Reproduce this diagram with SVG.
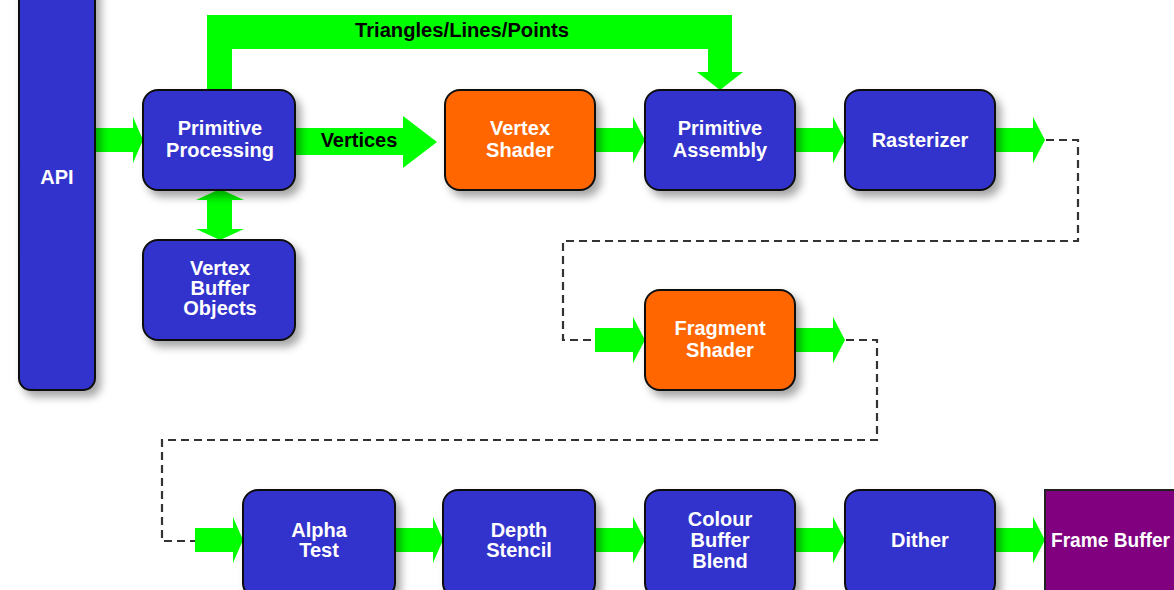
<svg xmlns="http://www.w3.org/2000/svg" width="1174" height="590" viewBox="0 0 1174 590">
<defs>
<filter id="sh" x="-20%" y="-20%" width="150%" height="150%">
<feDropShadow dx="5" dy="6" stdDeviation="4" flood-color="#000" flood-opacity="0.35"/>
</filter>
<style>
.box{fill:#3333cc;stroke:#111;stroke-width:2;filter:url(#sh)}
.org{fill:#ff6600;stroke:#111;stroke-width:2;filter:url(#sh)}
.fb{fill:#800080;stroke:#222;stroke-width:2}
.t{font-family:"Liberation Sans",Arial,sans-serif;font-weight:bold;font-size:20px;fill:#fff;text-anchor:middle}
.lb{font-family:"Liberation Sans",Arial,sans-serif;font-weight:bold;font-size:20px;fill:#000;text-anchor:middle}
.ar{fill:#00ff00}
.dash{fill:none;stroke:#333;stroke-width:2.2;stroke-dasharray:8 5}
</style>
</defs>
<rect width="1174" height="590" fill="#fff"/>
<g id="connectors">
<polygon class="ar" points="207,92 207,15 732,15 732,72 743,72 720,90 697,72 708,72 708,49 232,49 232,92"/>
<text class="lb" x="462" y="37" textLength="214" lengthAdjust="spacingAndGlyphs">Triangles/Lines/Points</text>
<polygon class="ar" points="95,128 133,128 133,117 143,140 133,163 133,152 95,152"/>
<polygon class="ar" points="295,128 403,128 403,116 437,142 403,168 403,155 295,155"/>
<text class="lb" x="359" y="147">Vertices</text>
<polygon class="ar" points="220,189 244,200 232,200 232,229 244,229 220,240 196,229 207,229 207,200 196,200"/>
<polygon class="ar" points="595,128 633,128 633,117 645,140 633,163 633,152 595,152"/>
<polygon class="ar" points="795,128 833,128 833,117 845,140 833,163 833,152 795,152"/>
<polygon class="ar" points="995,128 1033,128 1033,117 1045,140 1033,163 1033,152 995,152"/>
<polyline class="dash" points="1046,140 1078,140 1078,241 563,241 563,340 595,340"/>
<polygon class="ar" points="595,328 633,328 633,317 645,340 633,363 633,352 595,352"/>
<polygon class="ar" points="795,328 833,328 833,317 845,340 833,363 833,352 795,352"/>
<polyline class="dash" points="846,340 877,340 877,440 162,440 162,541 195,541"/>
<polygon class="ar" points="195,528 233,528 233,517 243,540 233,563 233,552 195,552"/>
<polygon class="ar" points="395,528 433,528 433,517 443,540 433,563 433,552 395,552"/>
<polygon class="ar" points="595,528 633,528 633,517 645,540 633,563 633,552 595,552"/>
<polygon class="ar" points="795,528 833,528 833,517 845,540 833,563 833,552 795,552"/>
<polygon class="ar" points="995,528 1033,528 1033,517 1045,540 1033,563 1033,552 995,552"/>
</g>
<g id="api"><rect class="box" x="19" y="-20" width="76" height="410" rx="12"/><text class="t" x="57" y="184">API</text></g>
<g id="primproc"><rect class="box" x="143" y="90" width="152" height="100" rx="15"/><text class="t" x="220" y="135">Primitive</text><text class="t" x="220" y="157">Processing</text></g>
<g id="vbo"><rect class="box" x="143" y="240" width="152" height="100" rx="15"/><text class="t" x="220" y="275">Vertex</text><text class="t" x="220" y="295">Buffer</text><text class="t" x="220" y="315">Objects</text></g>
<g id="vshader"><rect class="org" x="445" y="90" width="150" height="100" rx="15"/><text class="t" x="520" y="135">Vertex</text><text class="t" x="520" y="157">Shader</text></g>
<g id="primasm"><rect class="box" x="645" y="90" width="150" height="100" rx="15"/><text class="t" x="720" y="135">Primitive</text><text class="t" x="720" y="157">Assembly</text></g>
<g id="raster"><rect class="box" x="845" y="90" width="150" height="100" rx="15"/><text class="t" x="920" y="147">Rasterizer</text></g>
<g id="fshader"><rect class="org" x="645" y="290" width="150" height="100" rx="15"/><text class="t" x="720" y="335">Fragment</text><text class="t" x="720" y="357">Shader</text></g>
<g id="alpha"><rect class="box" x="243" y="490" width="152" height="108" rx="15"/><text class="t" x="319" y="537">Alpha</text><text class="t" x="319" y="557">Test</text></g>
<g id="depth"><rect class="box" x="443" y="490" width="152" height="108" rx="15"/><text class="t" x="519" y="537">Depth</text><text class="t" x="519" y="557">Stencil</text></g>
<g id="colour"><rect class="box" x="645" y="490" width="150" height="108" rx="15"/><text class="t" x="720" y="526">Colour</text><text class="t" x="720" y="547">Buffer</text><text class="t" x="720" y="568">Blend</text></g>
<g id="dither"><rect class="box" x="845" y="490" width="150" height="108" rx="15"/><text class="t" x="920" y="547">Dither</text></g>
<g id="framebuffer"><rect class="fb" x="1045" y="490" width="160" height="110"/><text class="t" x="1051" y="547" style="text-anchor:start" textLength="119" lengthAdjust="spacingAndGlyphs">Frame Buffer</text></g>
</svg>
